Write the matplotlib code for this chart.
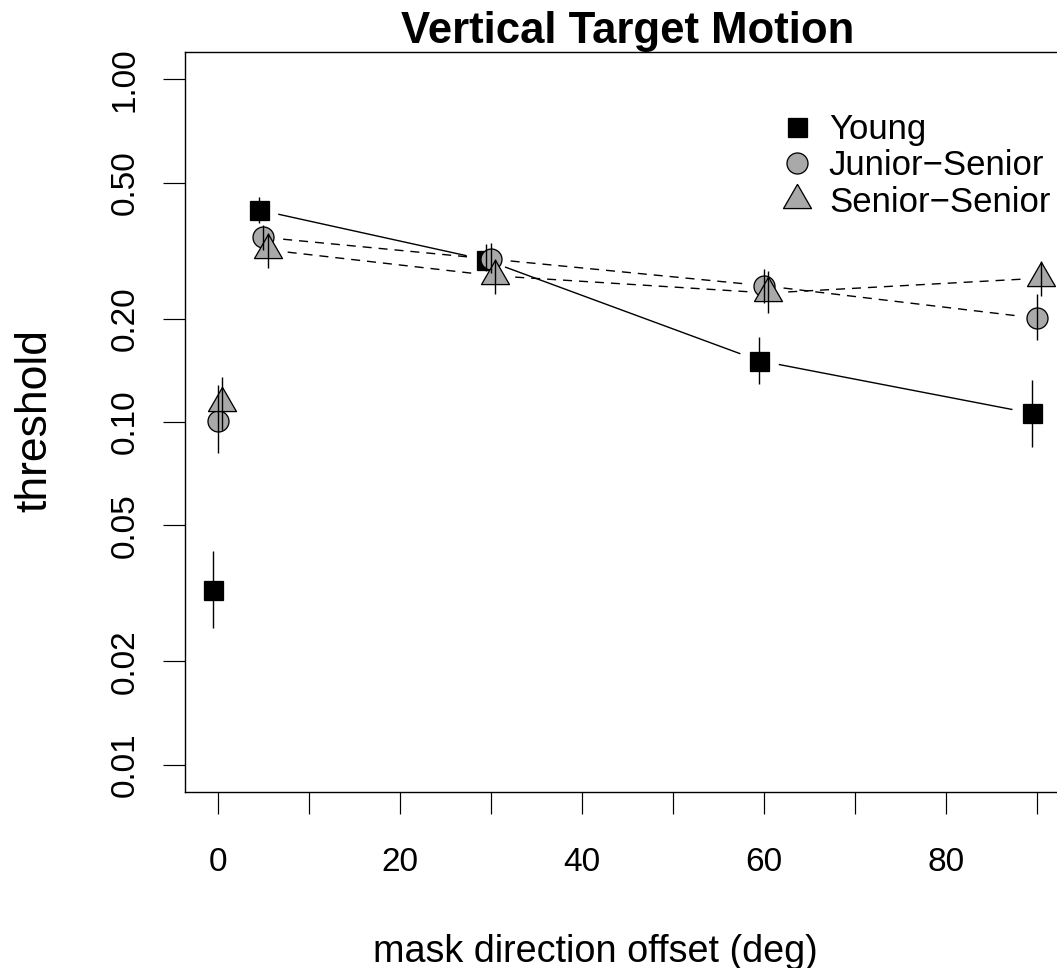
import numpy as np
import matplotlib
matplotlib.use("Agg")
import matplotlib.pyplot as plt
from matplotlib.lines import Line2D

plt.rcParams['font.family'] = ['Liberation Sans', 'DejaVu Sans']
plt.rcParams['lines.scale_dashes'] = False

# ---------------- data ----------------
offsets_deg = [0, 5, 30, 60, 90]
groups = ["Young", "Junior\u2212Senior", "Senior\u2212Senior"]

young_thr = [0.0324, 0.416, 0.297, 0.151, 0.106]
young_lo = [0.0251, 0.381, 0.275, 0.129, 0.0844]
young_hi = [0.0420, 0.454, 0.330, 0.177, 0.1326]

junior_thr = [0.101, 0.346, 0.299, 0.250, 0.201]
junior_lo = [0.081, 0.318, 0.272, 0.222, 0.173]
junior_hi = [0.128, 0.375, 0.334, 0.280, 0.236]

senior_thr = [0.1137, 0.318, 0.267, 0.238, 0.263]
senior_lo = [0.095, 0.2815, 0.236, 0.208, 0.233]
senior_hi = [0.135, 0.355, 0.300, 0.275, 0.295]

y_ticks = [0.01, 0.02, 0.05, 0.10, 0.20, 0.50, 1.00]
x_ticks = [0, 10, 20, 30, 40, 50, 60, 70, 80, 90]
x_ticklabels = ["0", "", "20", "", "40", "", "60", "", "80", ""]

# ---------------- figure ----------------
W, H = 1057, 968
fig = plt.figure(figsize=(W / 100, H / 100), dpi=100)
L, R, T, B = 185, 1069.4, 52, 792
ax = fig.add_axes([L / W, (H - B) / H, (R - L) / W, (B - T) / H])
ax.set_yscale('log')
ax.set_xlim(-3.6, 93.6)
ax.set_ylim(10 ** -2.08, 10 ** 0.08)

px = 0.72  # points per pixel
for s in ax.spines.values():
    s.set_linewidth(1.4 * px)

ax.set_yticks(y_ticks)
ax.set_yticklabels(["%.2f" % v for v in y_ticks], rotation=90, va='center')
ax.yaxis.set_minor_locator(matplotlib.ticker.NullLocator())
ax.set_xticks(x_ticks)
ax.set_xticklabels(x_ticklabels)
ax.tick_params(axis='both', direction='out', length=22 * px, width=1.2 * px,
               labelsize=24, color='black')
ax.tick_params(axis='x', pad=23.5)
ax.tick_params(axis='y', pad=16)

ax.set_title("Vertical Target Motion", fontsize=31.5, fontweight='bold', pad=6.5)
fig.text(595 / W, (H - 962) / H, "mask direction offset (deg)", fontsize=27.2,
         ha='center', va='baseline')
fig.text(35 / W, (H - 420) / H, "threshold", fontsize=32, rotation=90,
         ha='center', va='center')

tri = [(0, 1.5551), (1.3468, -0.7776), (-1.3468, -0.7776), (0, 1.5551)]
gray = '#A9A9A9'
series = [
    (young_thr, young_lo, young_hi, -0.5, dict(marker='s', ms=19 * px, mfc='black', mec='black'), '-'),
    (junior_thr, junior_lo, junior_hi, 0.0, dict(marker='o', ms=21 * px, mfc=gray, mec='black'), (0, (6.5, 5))),
    (senior_thr, senior_lo, senior_hi, 0.5, dict(marker=tri, ms=32.3 * px, mfc=gray, mec='black'), (0, (6.5, 5))),
]

fig.canvas.draw()
gap = 20.0  # pixels
lw = 1.4 * px
for k, (thr, lo, hi, off, mk, ls) in enumerate(series):
    xs = np.array(offsets_deg, dtype=float) + off
    ys = np.array(thr)
    # connecting lines (type 'b': gaps around points), excluding the 0 deg point
    pts = ax.transData.transform(np.column_stack([xs[1:], ys[1:]]))
    for i in range(len(pts) - 1):
        p0, p1 = pts[i], pts[i + 1]
        d = p1 - p0
        n = np.hypot(*d)
        if n <= 2 * gap:
            continue
        u = d / n
        a = ax.transData.inverted().transform([p0 + u * gap, p1 - u * gap])
        ax.plot(a[:, 0], a[:, 1], color='black', lw=lw, linestyle=ls, zorder=1,
                solid_capstyle='butt', dash_capstyle='butt')
    ax.plot(xs, ys, linestyle='none', mew=1.3 * px, zorder=2 + k * 0.1, **mk)
    ax.vlines(xs, lo, hi, color='black', lw=lw, zorder=3)

handles = [Line2D([], [], linestyle='none', mew=1.3 * px, **s[4]) for s in series]
leg = ax.legend(handles, groups, loc='upper left',
                bbox_to_anchor=(779.6 / W, (H - 112.8) / H),
                bbox_transform=fig.transFigure, frameon=False, fontsize=25,
                handlelength=1.0, handletextpad=0.42, labelspacing=0.1,
                borderpad=0, borderaxespad=0)

fig.savefig("out.png", dpi=100)
